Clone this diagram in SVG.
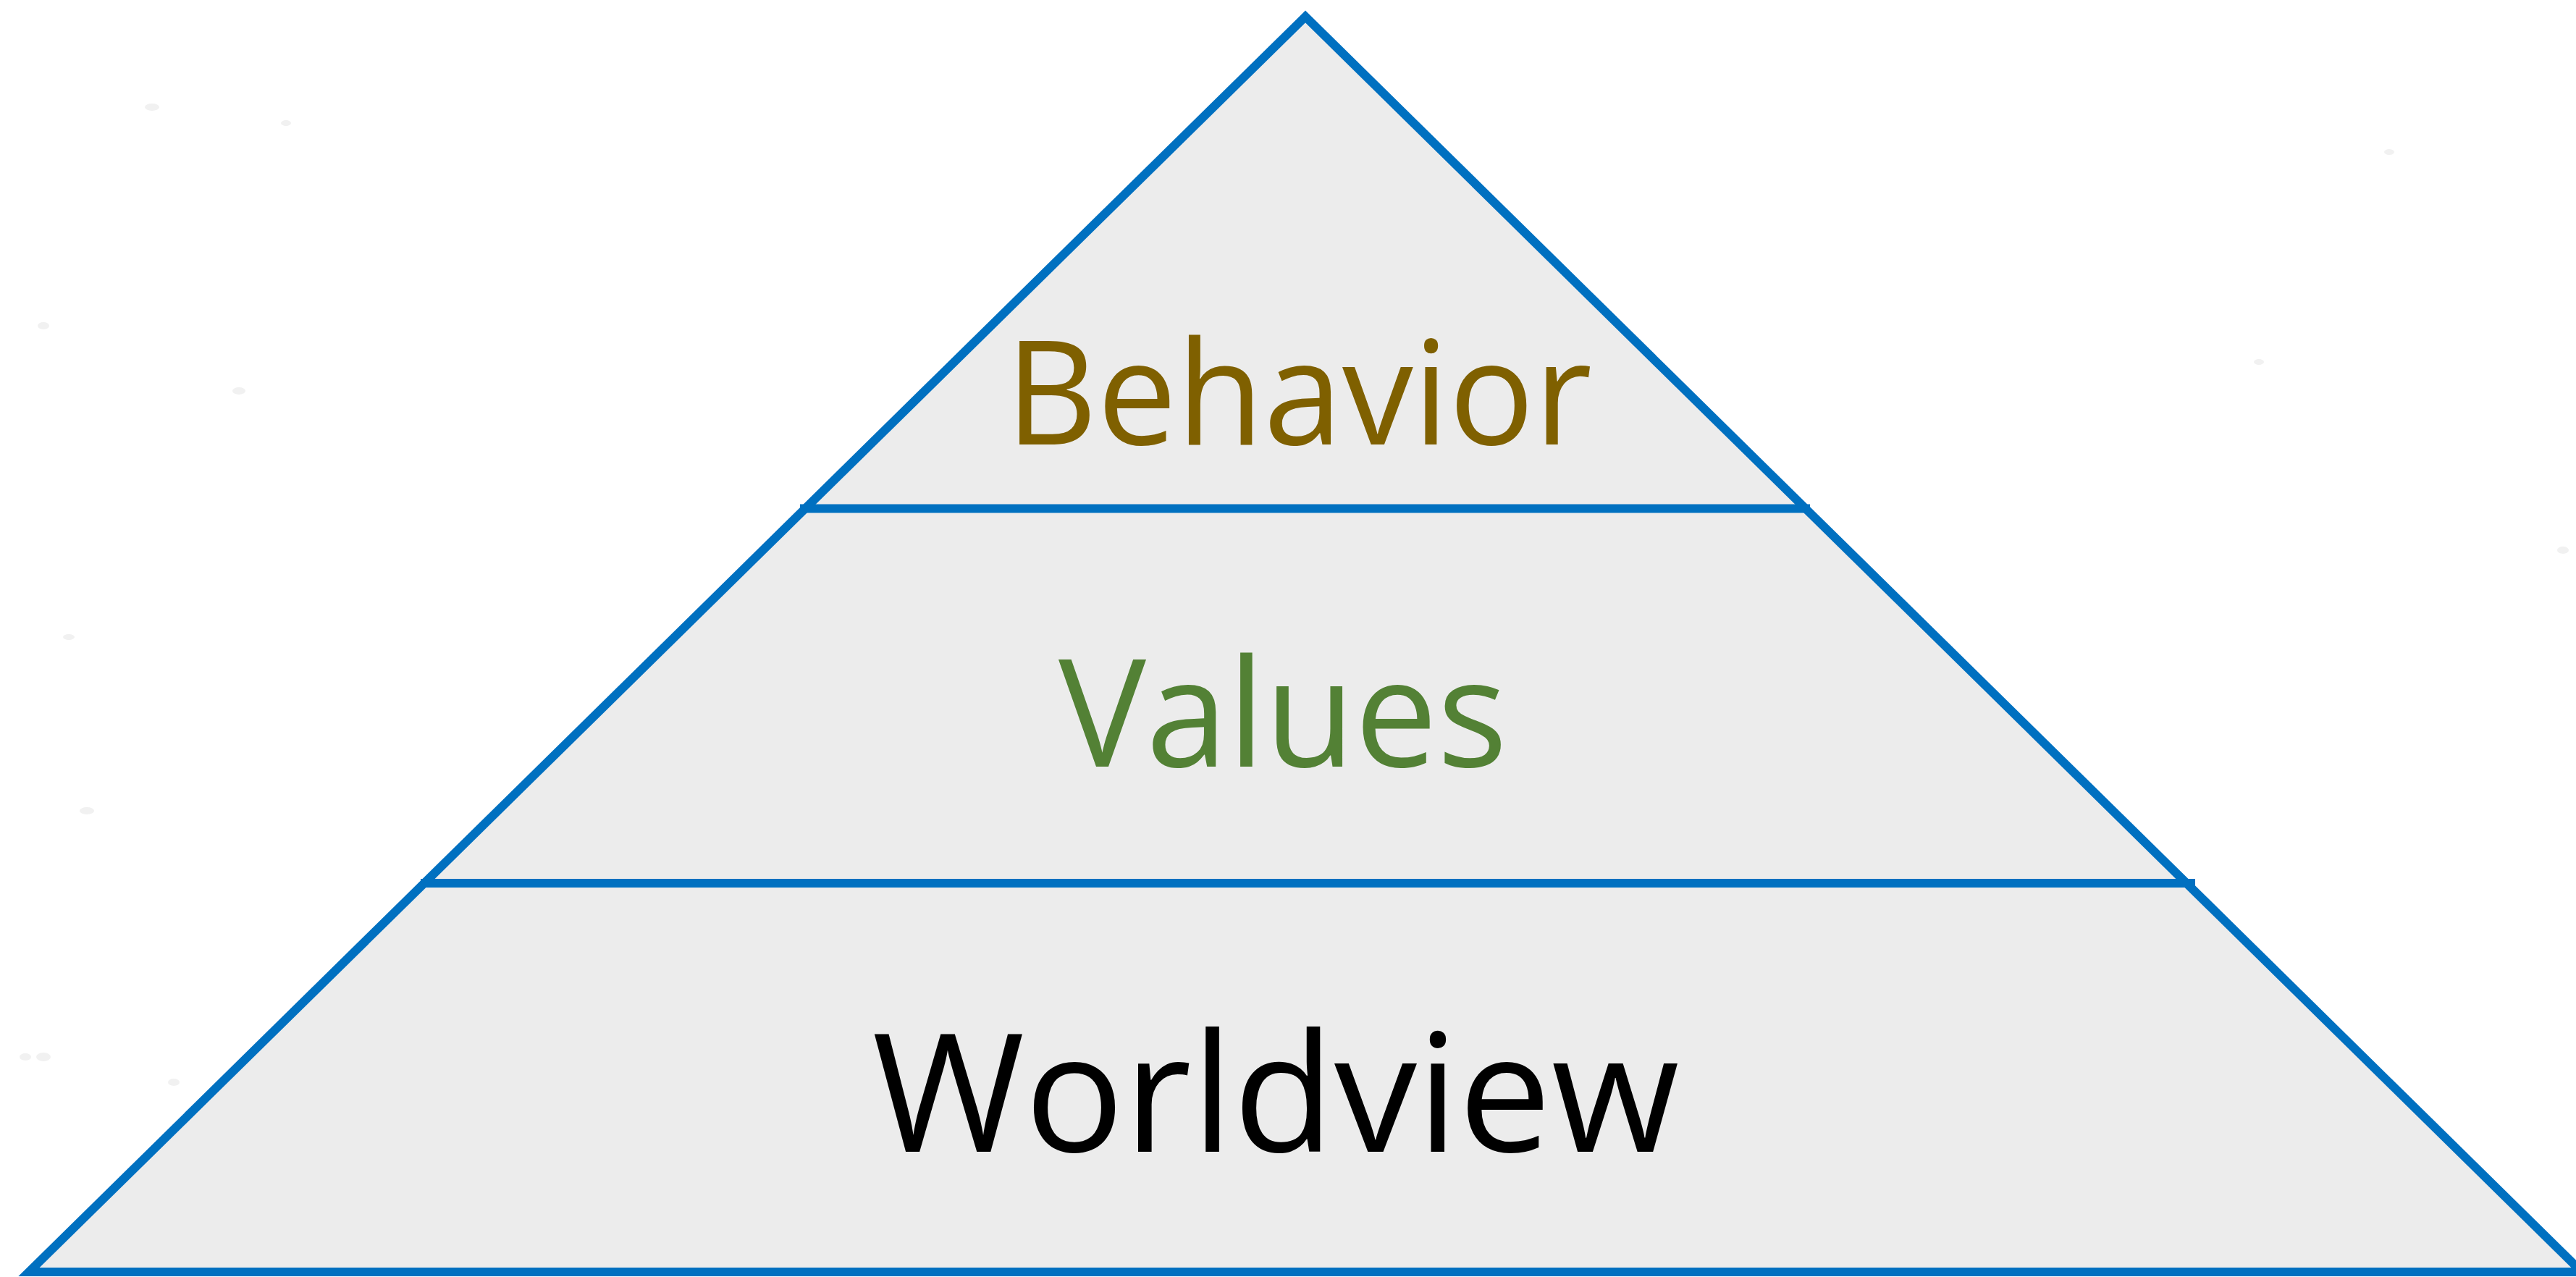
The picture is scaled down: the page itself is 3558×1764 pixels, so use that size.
<svg xmlns="http://www.w3.org/2000/svg" width="3558" height="1764" viewBox="0 0 3558 1764">
  <style>
    .edge { stroke: #0070C0; stroke-width: 12; fill: none; }
    .tri { fill: #ECECEC; stroke: #0070C0; stroke-width: 12; stroke-linejoin: miter; }
    .lbl { font-family: "Open Sans", "Noto Sans", "Liberation Sans", sans-serif; text-anchor: middle; }
    .speck { fill: #F1F1F1; }
  </style>
  <rect x="0" y="0" width="3558" height="1764" fill="#FFFFFF"/>
  <g id="background">
    <ellipse class="speck" cx="210" cy="148" rx="10" ry="5"/>
    <ellipse class="speck" cx="395" cy="170" rx="7" ry="4"/>
    <ellipse class="speck" cx="60" cy="450" rx="8" ry="5"/>
    <ellipse class="speck" cx="330" cy="540" rx="9" ry="5"/>
    <ellipse class="speck" cx="95" cy="880" rx="8" ry="4"/>
    <ellipse class="speck" cx="120" cy="1120" rx="10" ry="5"/>
    <ellipse class="speck" cx="60" cy="1460" rx="10" ry="6"/>
    <ellipse class="speck" cx="35" cy="1460" rx="8" ry="5"/>
    <ellipse class="speck" cx="240" cy="1495" rx="8" ry="5"/>
    <ellipse class="speck" cx="3300" cy="210" rx="7" ry="4"/>
    <ellipse class="speck" cx="3120" cy="500" rx="7" ry="4"/>
    <ellipse class="speck" cx="3540" cy="760" rx="8" ry="5"/>
  </g>
  <g id="pyramid">
    <polygon class="tri" points="1803,23 40,1757 3566,1757"/>
  </g>
  <g id="connectors">
    <line class="edge" x1="1105" y1="702.5" x2="2500" y2="702.5"/>
    <line class="edge" x1="581" y1="1220" x2="3032" y2="1220"/>
  </g>
  <g id="node-behavior">
    <text class="lbl" x="1794" y="614" font-size="199" fill="#7F6000" textLength="810" lengthAdjust="spacingAndGlyphs">Behavior</text>
  </g>
  <g id="node-values">
    <text class="lbl" x="1772" y="1059" font-size="207" fill="#538135" textLength="620" lengthAdjust="spacingAndGlyphs">Values</text>
  </g>
  <g id="node-worldview">
    <text class="lbl" x="1762" y="1591" font-size="228" fill="#000000" textLength="1115" lengthAdjust="spacingAndGlyphs">Worldview</text>
  </g>
</svg>
